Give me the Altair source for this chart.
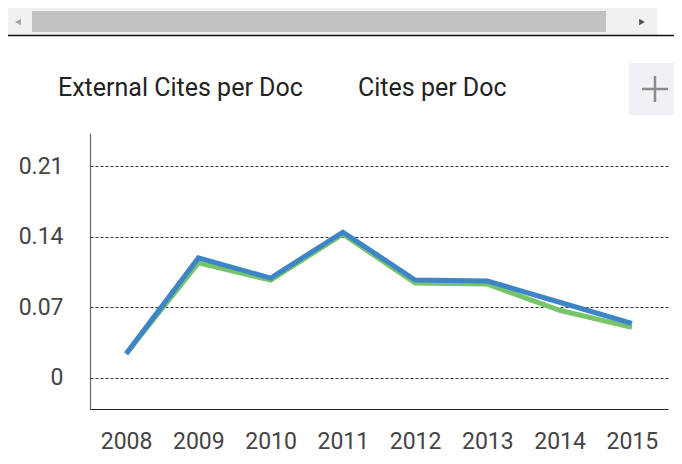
import altair as alt
import pandas as pd

years = ["2008", "2009", "2010", "2011", "2012", "2013", "2014", "2015"]
external_cites = [0.0238, 0.114, 0.097, 0.1426, 0.094, 0.093, 0.067, 0.050]
cites = [0.0238, 0.119, 0.099, 0.1446, 0.097, 0.096, 0.075, 0.054]
series_names = ["External Cites per Doc", "Cites per Doc"]
series_colors = ["#77c46a", "#3d85c6"]
y_ticks = [0, 0.07, 0.14, 0.21]

rows = []
for name, vals in zip(series_names, [external_cites, cites]):
    for yr, v in zip(years, vals):
        rows.append({"year": yr, "value": v, "series": name})
df = pd.DataFrame(rows)

FONT = "Roboto"

x_enc = alt.X("year:O", title=None,
              scale=alt.Scale(type="point", padding=0.5),
              axis=alt.Axis(labelAngle=0, ticks=False, grid=False,
                            labelFont=FONT, labelFontSize=23, labelColor="#444",
                            labelPadding=21, domainColor="#222", domainWidth=1.2))
y_enc = alt.Y("value:Q", title=None,
              scale=alt.Scale(domain=[-0.031, 0.243], nice=False, zero=False),
              axis=alt.Axis(values=y_ticks, ticks=False, grid=True,
                            labelExpr="datum.value == 0 ? '0' : format(datum.value, '.2f')",
                            gridDash=[3, 2], gridColor="#333", gridWidth=1,
                            labelFont=FONT, labelFontSize=23, labelColor="#444",
                            labelPadding=27, domainColor="#666", domainWidth=1.2))
color_enc = alt.Color("series:N",
                      scale=alt.Scale(domain=series_names, range=series_colors),
                      legend=alt.Legend(title=None, orient="none", legendX=-57, legendY=-58,
                                        direction="horizontal", labelFont=FONT,
                                        labelFontSize=25, labelColor="#222", labelLimit=500,
                                        symbolSize=0, symbolOpacity=0, symbolStrokeWidth=0,
                                        labelOffset=0, columnPadding=30))

lines = []
for name in series_names:
    lines.append(
        alt.Chart(df).transform_filter(alt.datum.series == name)
        .mark_line(strokeWidth=5)
        .encode(x=x_enc, y=y_enc, color=color_enc)
    )

one = alt.Data(values=[{"k": 1}])

track = alt.Chart(one).mark_rect(color="#f1f1f1").encode(
    x=alt.value(-85), x2=alt.value(567), y=alt.value(-125), y2=alt.value(-98))
thumb = alt.Chart(one).mark_rect(color="#c1c1c1").encode(
    x=alt.value(-58), x2=alt.value(516), y=alt.value(-122), y2=alt.value(-101))
sep = alt.Chart(one).mark_rule(color="#111", strokeWidth=1.5).encode(
    x=alt.value(-85), x2=alt.value(592), y=alt.value(-97.5))
larrow = alt.Chart(one).mark_point(shape="triangle-left", filled=True, color="#a3a3a3",
                                   size=45, opacity=1).encode(
    x=alt.value(-72), y=alt.value(-111))
rarrow = alt.Chart(one).mark_point(shape="triangle-right", filled=True, color="#505050",
                                   size=45, opacity=1).encode(
    x=alt.value(552), y=alt.value(-111))
plus_bg = alt.Chart(one).mark_rect(color="#f0f1f4").encode(
    x=alt.value(539), x2=alt.value(590), y=alt.value(-70), y2=alt.value(-18))
plus_h = alt.Chart(one).mark_rule(color="#8c8c8c", strokeWidth=2.5).encode(
    x=alt.value(552), x2=alt.value(578), y=alt.value(-44))
plus_v = alt.Chart(one).mark_rule(color="#8c8c8c", strokeWidth=2.5).encode(
    x=alt.value(565), y=alt.value(-57), y2=alt.value(-31))

chart = alt.layer(
    *lines, track, thumb, sep, larrow, rarrow, plus_bg, plus_h, plus_v
).properties(
    width=578, height=276,
    autosize=alt.AutoSizeParams(type="none"),
    padding={"left": 82, "top": 125, "right": 6, "bottom": 46},
    background="white",
).configure_view(stroke=None)

chart.save("out.html", embed_options={"renderer": "svg", "actions": False})
